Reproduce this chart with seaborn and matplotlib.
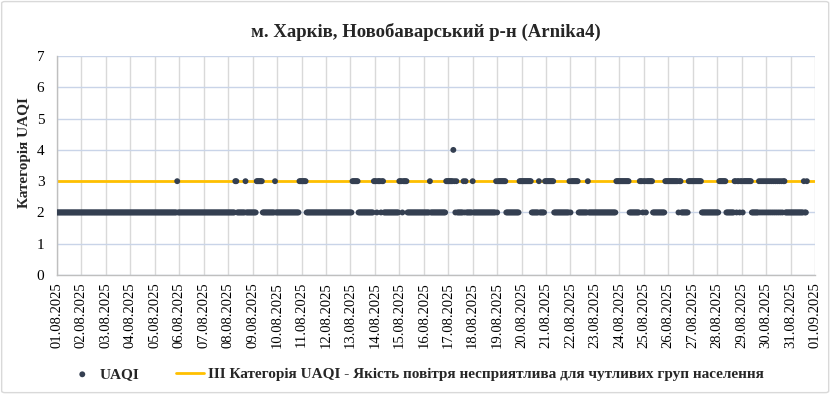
"""
UAQI hourly categories, Kharkiv, Novobavarskyi district (Arnika4), August 2025.
"""
import numpy as np
import pandas as pd
import matplotlib
matplotlib.use('Agg')
import matplotlib.pyplot as plt
import matplotlib.dates as mdates
from matplotlib.patches import FancyBboxPatch
import seaborn as sns

TITLE = "м. Харків, Новобаварський р-н (Arnika4)"
Y_LABEL = "Категорія UAQI"
SERIES_LABEL = "UAQI"
THRESHOLD_LABEL = "ІІІ Категорія UAQI - Якість повітря несприятлива для чутливих груп населення"

START = "2025-08-01 00:00"
N_HOURS = 737            # last reading 31.08 16:00
BASE_CATEGORY = 2
THRESHOLD = 3
X_RANGE = ["2025-08-01", "2025-09-01"]
Y_TICKS = [0, 1, 2, 3, 4, 5, 6, 7]

# hours (from START) where the category differs from 2: (first hour, last hour, category)
episodes = [
    (118, 118, 3), (175, 176, 3), (185, 185, 3), (196, 201, 3), (214, 214, 3),
    (238, 244, 3), (290, 295, 3),
    (311, 313, 3), (315, 317, 3), (319, 320, 3),
    (336, 338, 3), (340, 343, 3),
    (366, 366, 3),
    (382, 388, 3), (389, 389, 4), (390, 390, 3), (392, 392, 3),
    (399, 399, 3), (401, 401, 3), (408, 408, 3),
    (431, 431, 3), (433, 440, 3),
    (454, 465, 3),
    (473, 473, 3), (479, 487, 3),
    (503, 503, 3), (505, 511, 3),
    (521, 521, 3),
    (549, 561, 3),
    (572, 574, 3), (576, 577, 3), (579, 584, 3),
    (597, 609, 3), (611, 612, 3),
    (620, 632, 3),
    (650, 656, 3),
    (665, 666, 3), (668, 669, 3), (671, 672, 3), (674, 681, 3),
    (689, 689, 3), (691, 691, 3), (693, 693, 3), (695, 695, 3), (697, 697, 3),
    (699, 699, 3), (701, 701, 3), (703, 703, 3), (705, 705, 3), (707, 707, 3),
    (709, 709, 3), (711, 711, 3), (713, 714, 3),
    (733, 733, 3), (736, 736, 3),
]

DOT_COLOR = "#343F51"
LINE_COLOR = "#FFC000"

values = np.full(N_HOURS, BASE_CATEGORY)
for first, last, cat in episodes:
    values[first:last + 1] = cat
df = pd.DataFrame({"time": pd.date_range(START, periods=N_HOURS, freq="h"), "uaqi": values})
thr = pd.DataFrame({"time": pd.to_datetime(X_RANGE), "level": [THRESHOLD, THRESHOLD]})

sns.set_theme(style="white")
plt.rcParams["font.family"] = ["Liberation Serif", "DejaVu Serif"]

fig = plt.figure(figsize=(8.32, 3.95), dpi=100)
ax = fig.add_axes([0.0685, 0.3038, 0.9796 - 0.0685, 0.858 - 0.3038])

sns.lineplot(data=thr, x="time", y="level", color=LINE_COLOR, linewidth=2.0,
             label=THRESHOLD_LABEL, ax=ax, zorder=2)
sns.scatterplot(data=df, x="time", y="uaqi", color=DOT_COLOR, s=18, edgecolor="none",
                label=SERIES_LABEL, ax=ax, zorder=3)

ax.set_xlim(pd.to_datetime(X_RANGE[0]), pd.to_datetime(X_RANGE[1]))
ax.set_ylim(0, 7)
ax.set_yticks(Y_TICKS)
ax.xaxis.set_major_locator(mdates.DayLocator())
ax.xaxis.set_major_formatter(mdates.DateFormatter("%d.%m.%Y"))
ax.tick_params(axis="x", labelrotation=90, labelsize=10.5, length=0, pad=5, colors="black")
ax.tick_params(axis="y", labelsize=11, length=0, pad=9, colors="black")

ax.grid(axis="y", color="#C9D4E8", linewidth=1.0)
ax.grid(axis="x", color="#D9D9D9", linewidth=1.0)
ax.set_axisbelow(True)
for side in ["top", "right"]:
    ax.spines[side].set_visible(False)
for side in ["left", "bottom"]:
    ax.spines[side].set_color("#BFBFBF")
    ax.spines[side].set_linewidth(1.0)

ax.set_xlabel("")
ax.set_ylabel(Y_LABEL, fontsize=11, fontweight="bold")
ax.yaxis.set_label_coords(-0.034, 0.56)
fig.text(0.512, 0.92, TITLE, ha="center", va="center", fontsize=13.5, fontweight="bold")

handles, labels = ax.get_legend_handles_labels()
order = [labels.index(SERIES_LABEL), labels.index(THRESHOLD_LABEL)]
ax.legend([handles[i] for i in order], [labels[i] for i in order],
          loc="center", bbox_to_anchor=(0.5, 0.052), bbox_transform=fig.transFigure,
          ncol=2, frameon=False, handlelength=1.8, columnspacing=2.4, handletextpad=0.25,
          prop={"weight": "bold", "size": 11})

fig.patches.append(FancyBboxPatch((0.002, 0.006), 0.994, 0.99, boxstyle="round,pad=0,rounding_size=0.004",
                                  transform=fig.transFigure, fill=False, edgecolor="#D9D9D9",
                                  linewidth=1.0))

plt.savefig("out.png", dpi=100)
plt.close()
